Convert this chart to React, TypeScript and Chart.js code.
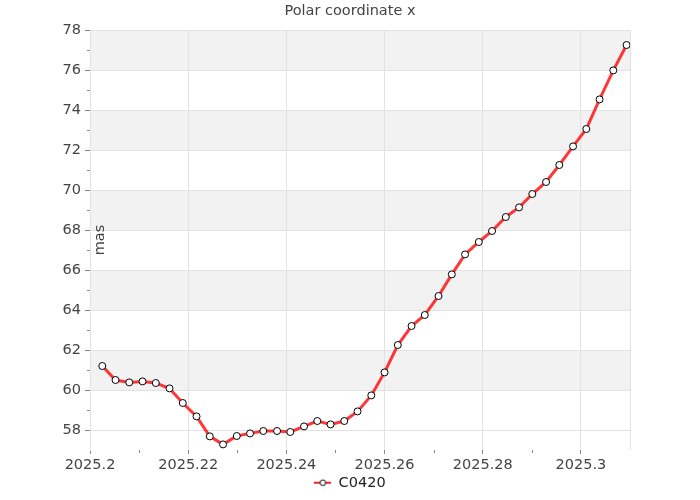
import React, { useEffect, useRef } from 'react';
import { Chart, registerables } from 'chart.js';

Chart.register(...registerables);

const epochs = [
  2025.2025, 2025.2052, 2025.208, 2025.2107, 2025.2134, 2025.2162, 2025.2189, 2025.2217,
  2025.2244, 2025.2271, 2025.2299, 2025.2326, 2025.2353, 2025.2381, 2025.2408, 2025.2436,
  2025.2463, 2025.249, 2025.2518, 2025.2545, 2025.2573, 2025.26, 2025.2627, 2025.2655,
  2025.2682, 2025.271, 2025.2737, 2025.2764, 2025.2792, 2025.2819, 2025.2847, 2025.2874,
  2025.2901, 2025.2929, 2025.2956, 2025.2984, 2025.3011, 2025.3038, 2025.3066, 2025.3093,
];
const polarX = [
  61.2, 60.5, 60.38, 60.43, 60.35, 60.08, 59.35, 58.68,
  57.68, 57.28, 57.7, 57.83, 57.95, 57.95, 57.9, 58.18,
  58.45, 58.28, 58.45, 58.93, 59.73, 60.88, 62.25, 63.2,
  63.75, 64.7, 65.78, 66.78, 67.4, 67.95, 68.65, 69.13,
  69.8, 70.4, 71.25, 72.18, 73.05, 74.53, 75.98, 77.25,
];
const seriesName = 'C0420';
const chartTitle = 'Polar coordinate x';
const yTitle = 'mas';
const xTicks = [2025.2, 2025.22, 2025.24, 2025.26, 2025.28, 2025.3];
const xMinorTicks = [2025.21, 2025.23, 2025.25, 2025.27, 2025.29];
const yTicks = [58, 60, 62, 64, 66, 68, 70, 72, 74, 76, 78];
const yMinorTicks = [59, 61, 63, 65, 67, 69, 71, 73, 75, 77];
const yBands = [[60, 62], [64, 66], [68, 70], [72, 74], [76, 78]];

const FONT = "'DejaVu Sans', Verdana, sans-serif";
const FS = 14.5;
const GRID = '#e2e2e2';
const TICK = '#888888';
const LEGEND_PAD = 3;

function makeLegendImage() {
  const c = document.createElement('canvas');
  c.width = 17;
  c.height = 10;
  const g = c.getContext('2d')!;
  g.strokeStyle = '#ff2020';
  g.lineWidth = 2;
  g.beginPath();
  g.moveTo(0, 5);
  g.lineTo(17, 5);
  g.stroke();
  g.fillStyle = '#ffffff';
  g.strokeStyle = '#000000';
  g.lineWidth = 1;
  g.beginPath();
  g.arc(8.5, 5, 2.8, 0, Math.PI * 2);
  g.fill();
  g.stroke();
  return c;
}

const decorPlugin = {
  id: 'decor',
  beforeDraw(chart: any) {
    const { ctx, chartArea } = chart;
    const y = chart.scales.y;
    ctx.save();
    ctx.fillStyle = '#f2f2f2';
    yBands.forEach(([a, b]) => {
      const top = y.getPixelForValue(b);
      const bot = y.getPixelForValue(a);
      ctx.fillRect(chartArea.left, top, chartArea.right - chartArea.left, bot - top);
    });
    ctx.restore();
  },
  afterDraw(chart: any) {
    const { ctx, chartArea } = chart;
    const x = chart.scales.x;
    const y = chart.scales.y;
    ctx.save();
    ctx.strokeStyle = GRID;
    ctx.lineWidth = 1;
    ctx.beginPath();
    const r = Math.round(chartArea.right) + 0.5;
    ctx.moveTo(r, chartArea.top);
    ctx.lineTo(r, chartArea.bottom);
    ctx.stroke();
    ctx.strokeStyle = TICK;
    ctx.beginPath();
    xMinorTicks.forEach((v) => {
      const px = Math.round(x.getPixelForValue(v)) + 0.5;
      ctx.moveTo(px, chartArea.bottom);
      ctx.lineTo(px, chartArea.bottom + 3);
    });
    yMinorTicks.forEach((v) => {
      const py = Math.round(y.getPixelForValue(v)) + 0.5;
      ctx.moveTo(chartArea.left - 3, py);
      ctx.lineTo(chartArea.left, py);
    });
    ctx.stroke();
    ctx.fillStyle = '#444444';
    ctx.font = `${FS}px ${FONT}`;
    ctx.textAlign = 'center';
    ctx.textBaseline = 'middle';
    ctx.translate(chartArea.left + 10, 240);
    ctx.rotate(-Math.PI / 2);
    ctx.fillText(yTitle, 0, 0);
    ctx.restore();
  },
};

export default function App() {
  const ref = useRef<HTMLCanvasElement | null>(null);
  useEffect(() => {
    if (!ref.current) return;
    const legendImg = makeLegendImage();
    const chart = new Chart(ref.current, {
      type: 'line',
      data: {
        datasets: [
          {
            label: seriesName,
            data: epochs.map((e, i) => ({ x: e, y: polarX[i] })),
            borderColor: 'rgba(255,20,20,0.85)',
            borderWidth: 3,
            pointRadius: 3.5,
            pointBackgroundColor: '#ffffff',
            pointBorderColor: '#000000',
            pointBorderWidth: 1,
            tension: 0,
          },
        ],
      },
      options: {
        responsive: false,
        animation: false,
        devicePixelRatio: 1,
        layout: { padding: 0 },
        plugins: {
          title: {
            display: true,
            text: chartTitle,
            color: '#444444',
            font: { family: FONT, size: FS, weight: 'normal' },
            padding: { top: 3, bottom: 30 - 3 - FS * 1.2 },
          },
          legend: {
            display: true,
            position: 'bottom',
            labels: {
              usePointStyle: true,
              pointStyleWidth: 17,
              padding: LEGEND_PAD,
              color: '#222222',
              font: { family: FONT, size: FS },
              generateLabels: () => [
                {
                  text: seriesName,
                  pointStyle: legendImg as any,
                  fillStyle: '#ff2020',
                  strokeStyle: '#ff2020',
                  lineWidth: 0,
                  hidden: false,
                  datasetIndex: 0,
                  fontColor: '#222222',
                } as any,
              ],
            },
          },
          tooltip: { enabled: false },
        },
        scales: {
          x: {
            type: 'linear',
            min: 2025.2,
            max: 2025.31,
            afterBuildTicks: (s: any) => {
              s.ticks = xTicks.map((v) => ({ value: v }));
            },
            afterFit: (s: any) => {
              s.height = 50 - (FS + LEGEND_PAD + 10);
            },
            ticks: {
              color: '#444444',
              font: { family: FONT, size: FS },
              padding: 3,
              maxRotation: 0,
              autoSkip: false,
              callback: (v: any) => String(Math.round(Number(v) * 100) / 100),
            },
            grid: { color: GRID, tickColor: TICK, tickLength: 4, drawTicks: true },
            border: { display: false },
          },
          y: {
            type: 'linear',
            min: 57,
            max: 78,
            afterBuildTicks: (s: any) => {
              s.ticks = yTicks.map((v) => ({ value: v }));
            },
            afterFit: (s: any) => {
              s.width = 90;
            },
            ticks: {
              color: '#444444',
              font: { family: FONT, size: FS },
              padding: 4,
              autoSkip: false,
              callback: (v: any) => String(v),
            },
            grid: { color: GRID, tickColor: TICK, tickLength: 5 },
            border: { display: true, color: GRID },
          },
          yRight: {
            type: 'linear',
            position: 'right',
            display: true,
            min: 0,
            max: 1,
            afterBuildTicks: (s: any) => {
              s.ticks = [];
            },
            afterFit: (s: any) => {
              s.width = 70;
            },
            ticks: { display: false },
            grid: { display: false },
            border: { display: false },
          },
        },
      },
      plugins: [decorPlugin],
    });
    return () => chart.destroy();
  }, []);
  return (
    <div style={{ position: 'absolute', left: 0, top: 0, width: 700, height: 500, background: '#ffffff' }}>
      <canvas ref={ref} width={700} height={500} />
    </div>
  );
}
